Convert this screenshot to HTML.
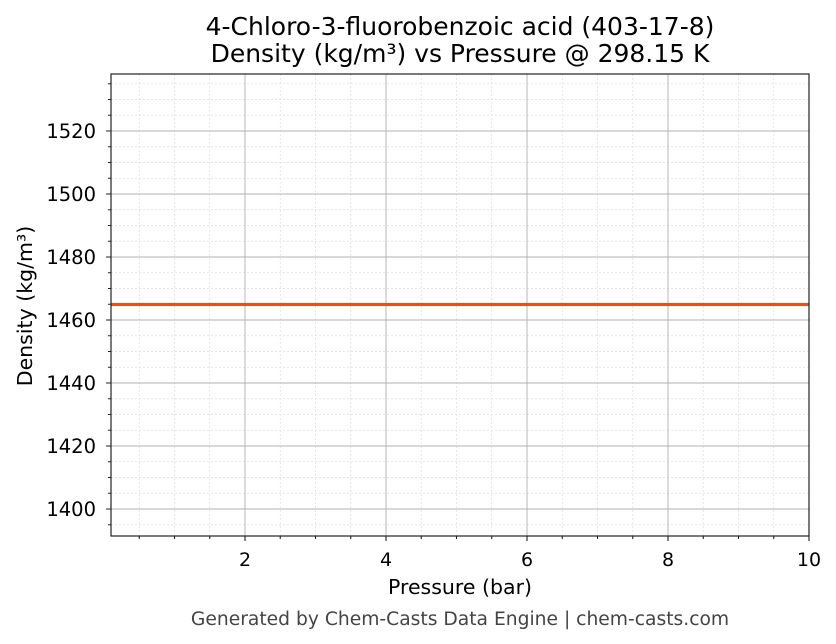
<!DOCTYPE html>
<html><head><meta charset="utf-8"><style>
html,body{margin:0;padding:0;background:#fff;width:836px;height:644px;overflow:hidden}
text{font-family:"DejaVu Sans","Liberation Sans",sans-serif;fill:#000}
</style></head><body>
<svg width="836" height="644" viewBox="0 0 836 644" xmlns="http://www.w3.org/2000/svg">
<rect width="836" height="644" fill="#fff"/>
<g stroke="#dddddd" stroke-width="0.7" stroke-dasharray="2,2">
<path d="M139.25 74V536M174.5 74V536M209.75 74V536M280.25 74V536M315.5 74V536M350.75 74V536M421.25 74V536M456.5 74V536M491.75 74V536M562.25 74V536M597.5 74V536M632.75 74V536M703.25 74V536M738.5 74V536M773.75 74V536"/>
<path d="M111 524.75H809M111 493.25H809M111 477.5H809M111 461.75H809M111 430.25H809M111 414.5H809M111 398.75H809M111 367.25H809M111 351.5H809M111 335.75H809M111 304.25H809M111 288.5H809M111 272.75H809M111 241.25H809M111 225.5H809M111 209.75H809M111 178.25H809M111 162.5H809M111 146.75H809M111 115.25H809M111 99.5H809M111 83.75H809"/>
</g>
<g stroke="#b0b0b0" stroke-width="0.9">
<path d="M245 74V536M386 74V536M527 74V536M668 74V536"/>
<path d="M111 509H809M111 446H809M111 383H809M111 320H809M111 257H809M111 194H809M111 131H809"/>
</g>
<line x1="111" y1="304.5" x2="809" y2="304.5" stroke="#dc5424" stroke-width="3.2"/>
<rect x="111" y="74" width="698" height="462" fill="none" stroke="#222" stroke-width="1.2"/>
<g stroke="#222" stroke-width="1.1">
<path d="M245 536v5M386 536v5M527 536v5M668 536v5M809 536v5"/>
<path d="M139.25 536v3M174.5 536v3M209.75 536v3M280.25 536v3M315.5 536v3M350.75 536v3M421.25 536v3M456.5 536v3M491.75 536v3M562.25 536v3M597.5 536v3M632.75 536v3M703.25 536v3M738.5 536v3M773.75 536v3"/>
<path d="M111 509h-5M111 446h-5M111 383h-5M111 320h-5M111 257h-5M111 194h-5M111 131h-5"/>
<path d="M111 524.75h-3M111 493.25h-3M111 477.5h-3M111 461.75h-3M111 430.25h-3M111 414.5h-3M111 398.75h-3M111 367.25h-3M111 351.5h-3M111 335.75h-3M111 304.25h-3M111 288.5h-3M111 272.75h-3M111 241.25h-3M111 225.5h-3M111 209.75h-3M111 178.25h-3M111 162.5h-3M111 146.75h-3M111 115.25h-3M111 99.5h-3M111 83.75h-3"/>
</g>
<g font-size="19" text-anchor="middle">
<text x="245" y="566">2</text><text x="386" y="566">4</text><text x="527" y="566">6</text><text x="668" y="566">8</text><text x="809" y="566">10</text>
</g>
<g font-size="19.5" text-anchor="end">
<text x="96" y="516">1400</text><text x="96" y="453">1420</text><text x="96" y="390">1440</text><text x="96" y="327">1460</text><text x="96" y="264">1480</text><text x="96" y="201">1500</text><text x="96" y="138">1520</text>
</g>
<text x="460" y="594" font-size="20.5" text-anchor="middle">Pressure (bar)</text>
<text transform="translate(32,306) rotate(-90)" font-size="20.5" text-anchor="middle">Density (kg/m³)</text>
<text x="460" y="35" font-size="25" text-anchor="middle">4-Chloro-3-fluorobenzoic acid (403-17-8)</text>
<text x="460" y="62" font-size="25" text-anchor="middle">Density (kg/m³) vs Pressure @ 298.15 K</text>
<text x="460" y="625" font-size="18.7" text-anchor="middle" style="fill:#444">Generated by Chem-Casts Data Engine | chem-casts.com</text>
</svg>
</body></html>
